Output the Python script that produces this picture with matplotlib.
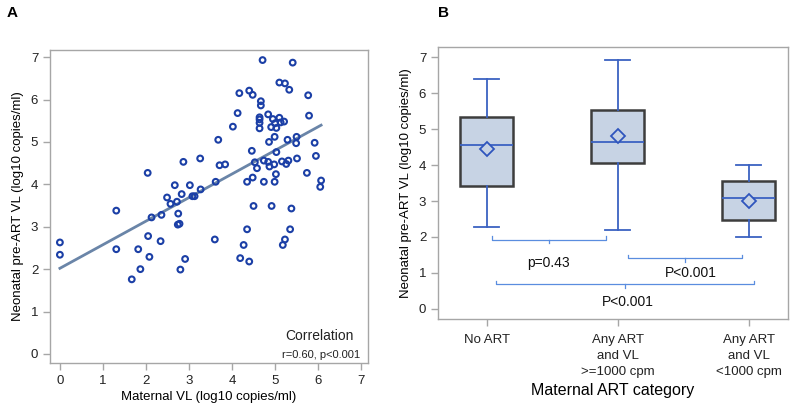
import matplotlib
matplotlib.use("Agg")
import matplotlib.pyplot as plt
import numpy as np

plt.rcParams["font.family"] = ["Liberation Sans", "DejaVu Sans"]
narrow = ["Liberation Sans Narrow", "Liberation Sans", "DejaVu Sans"]

# Panel A: maternal VL vs neonatal pre-ART VL (log10 copies/ml)
maternal_vl = [0.0, 0.0, 1.31, 1.31, 1.67, 1.82, 1.87, 2.04, 2.05, 2.08, 2.13, 2.34,
               2.36, 2.49, 2.57, 2.67, 2.72, 2.75, 2.74, 2.78, 2.83, 2.87, 2.80, 2.91,
               3.02, 3.08, 3.13, 3.26, 3.27, 3.60, 3.62, 3.68, 3.71, 3.84, 4.02, 4.13,
               4.17, 4.19, 4.27, 4.35, 4.35, 4.40, 4.40, 4.46, 4.48, 4.48, 4.50, 4.53,
               4.58, 4.64, 4.64, 4.64, 4.64, 4.67, 4.67, 4.71, 4.74, 4.74, 4.84, 4.84,
               4.86, 4.87, 4.92, 4.91, 4.95, 4.98, 4.99, 4.99, 5.00, 5.03, 5.03, 5.02,
               5.10, 5.10, 5.13, 5.16, 5.18, 5.21, 5.23, 5.23, 5.26, 5.29, 5.31, 5.33,
               5.35, 5.38, 5.41, 5.49, 5.50, 5.51, 5.74, 5.77, 5.79, 5.92, 5.95, 6.05,
               6.07]
neonatal_vl = [2.63, 2.34, 3.38, 2.47, 1.76, 2.47, 2.00, 4.27, 2.78, 2.29, 3.22, 2.66,
               3.28, 3.69, 3.54, 3.98, 3.59, 3.31, 3.05, 3.07, 3.77, 4.53, 1.99, 2.24,
               3.98, 3.72, 3.72, 4.61, 3.88, 2.70, 4.06, 5.05, 4.45, 4.47, 5.36, 5.68,
               6.15, 2.26, 2.57, 2.94, 4.06, 2.18, 6.21, 4.79, 6.11, 4.16, 3.49, 4.52,
               4.38, 5.53, 5.45, 5.32, 5.58, 5.96, 5.86, 6.93, 4.56, 4.06, 5.65, 4.53,
               5.00, 4.42, 3.49, 5.35, 5.54, 4.47, 5.12, 4.06, 5.44, 5.33, 4.76, 4.24,
               6.40, 5.57, 5.46, 4.54, 2.57, 5.48, 6.38, 2.70, 4.48, 5.05, 4.56, 6.23,
               2.94, 3.43, 6.87, 4.97, 5.12, 4.61, 4.27, 6.10, 5.62, 4.98, 4.67, 3.94,
               4.09]
fit_intercept = 2.02
fit_slope = 0.556

# Panel B: box summaries by maternal ART category
categories = ["No ART", "Any ART\nand VL\n>=1000 cpm", "Any ART\nand VL\n<1000 cpm"]
whisker_low = [2.28, 2.20, 2.00]
q1 = [3.43, 4.07, 2.48]
medians = [4.55, 4.63, 3.08]
q3 = [5.33, 5.53, 3.56]
whisker_high = [6.38, 6.93, 4.00]
means = [4.45, 4.80, 3.00]

# comparisons: (from, to, level, label, label x, label y)
comparisons = [(0.04, 0.91, 1.92, "p=0.43", 0.47, 1.28),
               (1.08, 1.95, 1.41, "P<0.001", 1.56, 1.00),
               (0.07, 2.04, 0.69, "P<0.001", 1.08, 0.19)]

fig = plt.figure(figsize=(8, 4.05), dpi=100)
spine_col = "#a6a6a6"

## PANEL A ##
ax1 = fig.add_axes([0.0625, 0.104, 0.3975, 0.7728])
ax1.scatter(maternal_vl, neonatal_vl, s=17, facecolors="none",
            edgecolors="#1b3fa6", linewidths=1.5, zorder=3)
xfit = np.array([min(maternal_vl), max(maternal_vl)])
ax1.plot(xfit, fit_intercept + fit_slope * xfit, color="#6a85a8", lw=2, zorder=2)
ax1.set_xlim(-0.23, 7.16)
ax1.set_ylim(-0.21, 7.17)
ax1.set_xticks(range(0, 8))
ax1.set_yticks(range(0, 8))
ax1.set_xlabel("Maternal VL (log10 copies/ml)", fontsize=9.5, labelpad=3, family=narrow)
ax1.set_ylabel("Neonatal pre-ART VL (log10 copies/ml)", fontsize=9.5, labelpad=5,
               family=narrow)
ax1.text(0.955, 0.085, "Correlation", transform=ax1.transAxes, ha="right",
         va="center", fontsize=10, color="#222222")
ax1.text(0.975, 0.025, "r=0.60, p<0.001", transform=ax1.transAxes, ha="right",
         va="center", fontsize=8, color="#222222")

## PANEL B ##
ax2 = fig.add_axes([0.5475, 0.2123, 0.4375, 0.6716])
stats = []
for i in range(len(categories)):
    stats.append({"whislo": whisker_low[i], "q1": q1[i], "med": medians[i],
                  "q3": q3[i], "whishi": whisker_high[i], "mean": means[i]})
ax2.bxp(stats, positions=range(len(categories)), widths=0.4, showmeans=True,
        showfliers=False, patch_artist=True,
        boxprops=dict(facecolor="#c7d3e4", edgecolor="#3d3d3d", linewidth=1.8),
        whiskerprops=dict(color="#3b62c2", linewidth=1.3),
        capprops=dict(color="#3b62c2", linewidth=1.3),
        medianprops=dict(color="#3b62c2", linewidth=1.3),
        meanprops=dict(marker="D", markerfacecolor="#c7d3e4",
                       markeredgecolor="#2f55bd", markersize=7, markeredgewidth=1.3),
        capwidths=0.19)
for x0, x1, lev, lab, lx, ly in comparisons:
    arm = 0.1
    mid = (x0 + x1) / 2
    ax2.plot([x0, x0, x1, x1], [lev + arm, lev, lev, lev + arm],
             color="#5a8ddf", lw=0.9)
    ax2.plot([mid, mid], [lev, lev - arm], color="#5a8ddf", lw=0.9)
    ax2.text(lx, ly, lab, ha="center", va="center", fontsize=10, color="#111111")
ax2.set_xlim(-0.37, 2.3)
ax2.set_ylim(-0.28, 7.28)
ax2.set_yticks(range(0, 8))
ax2.set_xticks(range(len(categories)))
ax2.set_xticklabels(categories, fontsize=9.5, linespacing=1.45)
ax2.set_xlabel("Maternal ART category", fontsize=11.5, labelpad=3, family=narrow)
ax2.set_ylabel("Neonatal pre-ART VL (log10 copies/ml)", fontsize=9.5, labelpad=5,
               family=narrow)

for ax in (ax1, ax2):
    for s in ax.spines.values():
        s.set_color(spine_col)
        s.set_linewidth(1.0)
    ax.tick_params(colors=spine_col, labelcolor="#222222", length=5, width=1.0)
    ax.tick_params(axis="y", labelsize=9.5)
    for t in ax.get_yticklabels():
        t.set_family(narrow)
for t in ax1.get_xticklabels():
    t.set_family(narrow)
ax1.tick_params(axis="x", labelsize=9.5)
ax2.tick_params(axis="x", pad=6)

fig.text(0.008, 0.985, "A", fontsize=11, fontweight="bold", va="top", family=narrow)
fig.text(0.548, 0.985, "B", fontsize=11, fontweight="bold", va="top", family=narrow)

fig.savefig("out.png", dpi=100)
